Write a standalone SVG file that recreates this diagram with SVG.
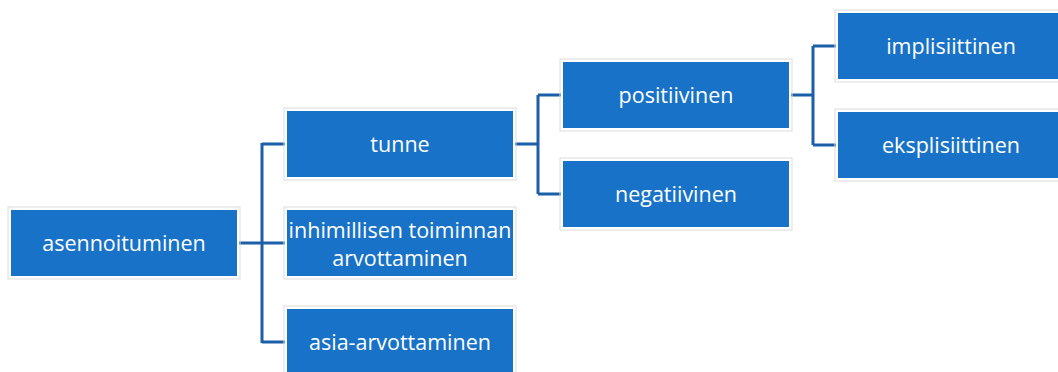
<svg xmlns="http://www.w3.org/2000/svg" width="1058" height="372" viewBox="0 0 1058 372">
<style>
.box{fill:#1872c8;stroke:#ffffff;stroke-width:2}
.edge{fill:none;stroke:#dcdcdc;stroke-width:1}
.lbl{font-family:"Open Sans","Liberation Sans",sans-serif;font-size:21.5px;fill:#ffffff;text-anchor:middle;dominant-baseline:central}
.conn{fill:none;stroke:#1a5fa8;stroke-width:3}
</style>
<rect width="1058" height="372" fill="#ffffff"/>
<g id="connectors">
<path class="conn" d="M238,243 H262 M262,143 V343 M262,144 H286 M262,243 H286 M262,342 H286"/>
<path class="conn" d="M515,144 H538 M538,95 V194 M538,95 H562 M538,194 H562"/>
<path class="conn" d="M790,95 H813 M813,46 V145 M813,46 H837 M813,145 H837"/>
</g>
<g id="n-asennoituminen">
<rect class="edge" x="8" y="207" width="232" height="72"/>
<rect class="box" x="10" y="209" width="228" height="68"/>
<text class="lbl" x="124" y="242">asennoituminen</text>
</g>
<g id="n-tunne">
<rect class="edge" x="284" y="108" width="232" height="72"/>
<rect class="box" x="286" y="110" width="228" height="68"/>
<text class="lbl" x="400" y="143">tunne</text>
</g>
<g id="n-inhimillisen">
<rect class="edge" x="284" y="207" width="232" height="72"/>
<rect class="box" x="286" y="209" width="228" height="68"/>
<text class="lbl" x="400" y="229">inhimillisen toiminnan</text>
<text class="lbl" x="400" y="257">arvottaminen</text>
</g>
<g id="n-asia">
<rect class="edge" x="284" y="306" width="232" height="72"/>
<rect class="box" x="286" y="308" width="228" height="68"/>
<text class="lbl" x="400" y="341">asia-arvottaminen</text>
</g>
<g id="n-positiivinen">
<rect class="edge" x="560" y="59" width="232" height="72"/>
<rect class="box" x="562" y="61" width="228" height="68"/>
<text class="lbl" x="676" y="94">positiivinen</text>
</g>
<g id="n-negatiivinen">
<rect class="edge" x="560" y="158" width="232" height="72"/>
<rect class="box" x="562" y="160" width="228" height="68"/>
<text class="lbl" x="676" y="193">negatiivinen</text>
</g>
<g id="n-implisiittinen">
<rect class="edge" x="835" y="10" width="232" height="72"/>
<rect class="box" x="837" y="12" width="228" height="68"/>
<text class="lbl" x="951" y="45">implisiittinen</text>
</g>
<g id="n-eksplisiittinen">
<rect class="edge" x="835" y="109" width="232" height="72"/>
<rect class="box" x="837" y="111" width="228" height="68"/>
<text class="lbl" x="951" y="144">eksplisiittinen</text>
</g>
</svg>
